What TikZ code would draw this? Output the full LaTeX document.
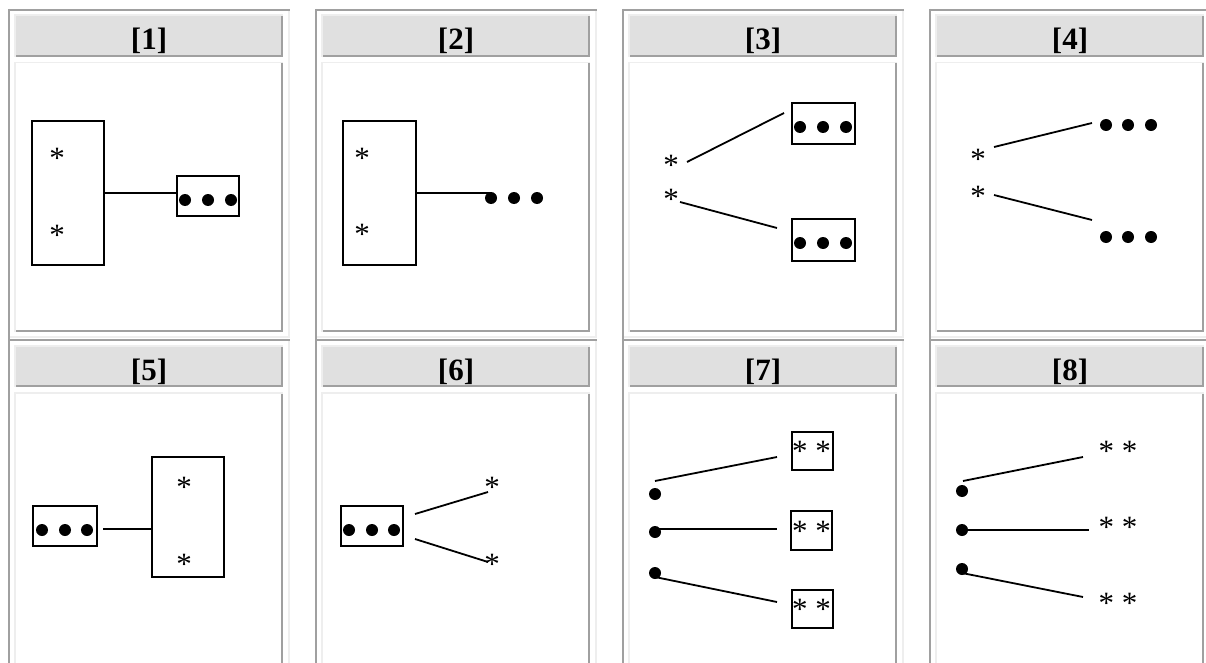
\documentclass[tikz,border=0pt]{standalone}
\usepackage{fontspec}
\setmainfont{Liberation Serif}
\newcommand\myst{\fontsize{31pt}{31pt}\selectfont}
\newcommand\myhd{\fontsize{31pt}{31pt}\selectfont\bfseries}
\definecolor{dk}{RGB}{160,160,160}
\definecolor{lt}{RGB}{238,238,238}
\definecolor{hf}{RGB}{224,224,224}
\begin{document}
\begin{tikzpicture}[x=1pt,y=-1pt,
  bx/.style={draw, line width=2pt, inner sep=0pt},
  dot/.style={circle, fill, inner sep=0pt, minimum size=12pt},
  st/.style={font=\myst, inner sep=0pt, anchor=base, yshift=-14.6pt},
  hd/.style={font=\myhd, inner sep=0pt, anchor=base},
  link/.style={line width=1.8pt}]
\useasboundingbox (0,0) rectangle (1206,663);
\fill[white] (0,0) rectangle (1206,663);
\begin{scope}
\clip (0,0) rectangle (1206,663);
\foreach \c in {0,1,2,3}{\foreach \r in {0,1}{
  \pgfmathtruncatemacro\n{\c+1+4*\r}
  \pgfmathsetmacro\bb{\r==1 ? 400 : 332}
  \begin{scope}[shift={(307*\c,330*\r)}]
    \draw[lt,line width=2pt] (289,9) -- (289,338) (8,337) -- (290,337);
    \draw[dk,line width=2pt] (8,10) -- (290,10) (9,9) -- (9,339);
    \fill[lt] (14,14.5) rectangle (283,57);
    \fill[dk] (16,16.5) rectangle (283,57);
    \fill[hf] (16,16.5) rectangle (281,55);
    \fill[lt] (14,62) rectangle (283,\bb);
    \fill[dk] (16,63.5) rectangle (283,\bb);
    \fill[white] (16,63.5) rectangle (281,\bb-2);
    \node[hd] (h\n) at (149,50) {[\n]};
  \end{scope}
}}
\end{scope}

% ---------- Panel 1
\node[bx, minimum width=72pt, minimum height=144pt] (p1tall) at (68,193) {};
\node[st] (p1s1) at (57,154) {*};
\node[st] (p1s2) at (57,231) {*};
\node[bx, minimum width=62pt, minimum height=40pt] (p1box) at (208,196) {};
\node[dot] (p1d1) at (185,200) {};
\node[dot] (p1d2) at (208,200) {};
\node[dot] (p1d3) at (231,200) {};
\draw[link] (p1tall.east) -- (p1tall.east -| p1box.west);

% ---------- Panel 2
\node[bx, minimum width=73pt, minimum height=144pt] (p2tall) at (379.5,193) {};
\node[st] (p2s1) at (362,154) {*};
\node[st] (p2s2) at (362,230) {*};
\node[dot] (p2d1) at (491,198) {};
\node[dot] (p2d2) at (514,198) {};
\node[dot] (p2d3) at (537,198) {};
\draw[link] (p2tall.east) -- (p2tall.east -| p2d1.center);

% ---------- Panel 3
\node[st] (p3s1) at (671,161) {*};
\node[st] (p3s2) at (671,195) {*};
\node[bx, minimum width=63pt, minimum height=41pt] (p3b1) at (823.5,123.5) {};
\node[dot] (p3d1) at (800,127) {};
\node[dot] (p3d2) at (823,127) {};
\node[dot] (p3d3) at (846,127) {};
\node[bx, minimum width=63pt, minimum height=42pt] (p3b2) at (823.5,239.5) {};
\node[dot] (p3d4) at (800,243) {};
\node[dot] (p3d5) at (823,243) {};
\node[dot] (p3d6) at (846,243) {};
\coordinate (p3a1) at (687,162);
\coordinate (p3a2) at (784,113);
\coordinate (p3a3) at (680,202);
\coordinate (p3a4) at (777,228);
\draw[link] (p3a1) -- (p3a2);
\draw[link] (p3a3) -- (p3a4);

% ---------- Panel 4
\node[st] (p4s1) at (978,155) {*};
\node[st] (p4s2) at (978,192) {*};
\node[dot] (p4d1) at (1106,125) {};
\node[dot] (p4d2) at (1128,125) {};
\node[dot] (p4d3) at (1151,125) {};
\node[dot] (p4d4) at (1106,237) {};
\node[dot] (p4d5) at (1128,237) {};
\node[dot] (p4d6) at (1151,237) {};
\coordinate (p4a1) at (994,147);
\coordinate (p4a2) at (1092,123);
\coordinate (p4a3) at (994,195);
\coordinate (p4a4) at (1092,220);
\draw[link] (p4a1) -- (p4a2);
\draw[link] (p4a3) -- (p4a4);

% ---------- Panel 5
\node[bx, minimum width=64pt, minimum height=40pt] (p5box) at (65,526) {};
\node[dot] (p5d1) at (42,530) {};
\node[dot] (p5d2) at (65,530) {};
\node[dot] (p5d3) at (87,530) {};
\node[bx, minimum width=72pt, minimum height=120pt] (p5tall) at (188,517) {};
\node[st] (p5s1) at (184,483) {*};
\node[st] (p5s2) at (184,560) {*};
\coordinate (p5a1) at (103,529);
\draw[link] (p5a1) -- (p5a1 -| p5tall.west);

% ---------- Panel 6
\node[bx, minimum width=62pt, minimum height=40pt] (p6box) at (372,526) {};
\node[dot] (p6d1) at (349,530) {};
\node[dot] (p6d2) at (372,530) {};
\node[dot] (p6d3) at (394,530) {};
\node[st] (p6s1) at (492,483) {*};
\node[st] (p6s2) at (492,560) {*};
\coordinate (p6a1) at (415,514);
\coordinate (p6a2) at (488,492);
\coordinate (p6a3) at (415,539);
\coordinate (p6a4) at (488,562);
\draw[link] (p6a1) -- (p6a2);
\draw[link] (p6a3) -- (p6a4);

% ---------- Panel 7
\node[bx, minimum width=41pt, minimum height=38pt] (p7b1) at (812.5,451) {};
\node[bx, minimum width=41pt, minimum height=39pt] (p7b2) at (811.5,530.5) {};
\node[bx, minimum width=41pt, minimum height=38pt] (p7b3) at (812.5,609) {};
\node[st] (p7s1) at (811.5,447) {* *};
\node[st] (p7s2) at (811.5,527) {* *};
\node[st] (p7s3) at (811.5,605) {* *};
\node[dot] (p7d1) at (655,494) {};
\node[dot] (p7d2) at (655,532) {};
\node[dot] (p7d3) at (655,573) {};
\coordinate (p7a1) at (655,481);
\coordinate (p7a2) at (777,457);
\coordinate (p7a3) at (655,529);
\coordinate (p7a4) at (777,529);
\coordinate (p7a5) at (655,577);
\coordinate (p7a6) at (777,602);
\draw[link] (p7a1) -- (p7a2);
\draw[link] (p7a3) -- (p7a4);
\draw[link] (p7a5) -- (p7a6);

% ---------- Panel 8
\node[st] (p8s1) at (1118,447) {* *};
\node[st] (p8s2) at (1118,523) {* *};
\node[st] (p8s3) at (1118,599) {* *};
\node[dot] (p8d1) at (962,491) {};
\node[dot] (p8d2) at (962,530) {};
\node[dot] (p8d3) at (962,569) {};
\coordinate (p8a1) at (963,481);
\coordinate (p8a2) at (1083,457);
\coordinate (p8a3) at (962,530);
\coordinate (p8a4) at (1089,530);
\coordinate (p8a5) at (962,573);
\coordinate (p8a6) at (1083,597);
\draw[link] (p8a1) -- (p8a2);
\draw[link] (p8a3) -- (p8a4);
\draw[link] (p8a5) -- (p8a6);
\end{tikzpicture}
\end{document}
